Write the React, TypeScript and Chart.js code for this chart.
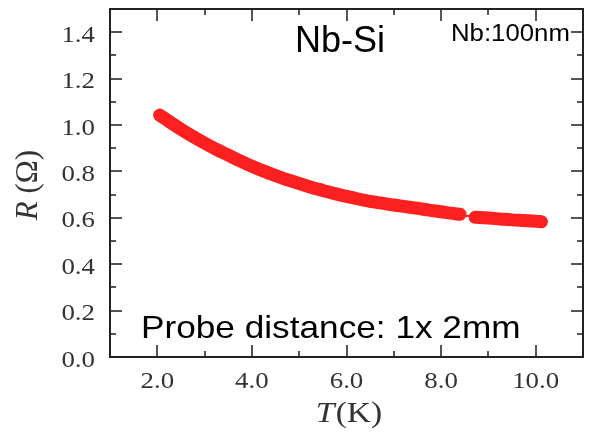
import React, { useEffect, useRef } from "react";
import { Chart, registerables } from "chart.js";

Chart.register(...registerables);

// Measured R(T) curve (first segment, gap, second segment)
const temperatureK = [
  2.05, 2.25, 2.5, 2.75, 3.0, 3.25, 3.5, 3.75, 4.0, 4.25, 4.5, 4.75, 5.0,
  5.25, 5.5, 5.75, 6.0, 6.25, 6.5, 6.75, 7.0, 7.25, 7.5, 7.75, 8.0, 8.2, 8.4,
  8.55,
  8.72, 9.0, 9.25, 9.5, 9.75, 10.0, 10.12,
];
const resistanceOhm: (number | null)[] = [
  1.043, 1.015, 0.982, 0.951, 0.922, 0.895, 0.87, 0.845, 0.822, 0.801, 0.782,
  0.764, 0.748, 0.732, 0.718, 0.704, 0.692, 0.681, 0.671, 0.663, 0.655, 0.648,
  0.641, 0.633, 0.626, 0.62, 0.615,
  null,
  0.602, 0.599, 0.595, 0.591, 0.588, 0.585, 0.583,
];
// isolated reading inside the gap
const isolatedT = [8.55];
const isolatedR = [0.608];

const xMajorTicks = [2, 4, 6, 8, 10];
const xMinorTicks = [3, 5, 7, 9];
const yMajorTicks = [0, 0.2, 0.4, 0.6, 0.8, 1.0, 1.2, 1.4];
const yMinorTicks = [0.1, 0.3, 0.5, 0.7, 0.9, 1.1, 1.3];

const xRange = [1, 11];
const yRange = [0, 1.5];

const titleText = "Nb-Si";
const thicknessText = "Nb:100nm";
const probeText = "Probe distance: 1x 2mm";

const RED = "#fc2020";

export default function App() {
  const canvasRef = useRef<HTMLCanvasElement | null>(null);

  useEffect(() => {
    const canvas = canvasRef.current;
    if (!canvas) return;

    const framePlugin = {
      id: "frame",
      afterDraw(chart: any) {
        const { ctx, chartArea: ca, scales } = chart;
        const xs = scales.x;
        const ys = scales.y;
        ctx.save();
        // ticks (inward, on all four sides)
        ctx.strokeStyle = "#555";
        ctx.lineWidth = 2;
        const major = 12;
        const minor = 6;
        const vtick = (v: number, len: number) => {
          const px = Math.round(xs.getPixelForValue(v));
          ctx.beginPath();
          ctx.moveTo(px, ca.bottom);
          ctx.lineTo(px, ca.bottom - len);
          ctx.moveTo(px, ca.top);
          ctx.lineTo(px, ca.top + len);
          ctx.stroke();
        };
        const htick = (v: number, len: number) => {
          const py = Math.round(ys.getPixelForValue(v));
          ctx.beginPath();
          ctx.moveTo(ca.left, py);
          ctx.lineTo(ca.left + len, py);
          ctx.moveTo(ca.right, py);
          ctx.lineTo(ca.right - len, py);
          ctx.stroke();
        };
        xMajorTicks.forEach((v) => vtick(v, major));
        xMinorTicks.forEach((v) => vtick(v, minor));
        yMajorTicks.forEach((v) => htick(v, major));
        yMinorTicks.forEach((v) => htick(v, minor));

        // frame
        ctx.strokeStyle = "#222";
        ctx.lineWidth = 2;
        ctx.strokeRect(ca.left, ca.top, ca.right - ca.left, ca.bottom - ca.top);

        // tick labels (serif, slightly wide as in the source figure)
        const labelFont = '24px "Liberation Serif"';
        ctx.fillStyle = "#333";
        ctx.font = labelFont;
        ctx.textBaseline = "alphabetic";
        const stretchText = (txt: string, x: number, y: number, sxf: number, align: string) => {
          ctx.save();
          ctx.translate(x, y);
          ctx.scale(sxf, 1);
          ctx.textAlign = align;
          ctx.fillText(txt, 0, 0);
          ctx.restore();
        };
        ys.ticks.forEach((t: any) => {
          const py = ys.getPixelForValue(t.value);
          stretchText(Number(t.value).toFixed(1), ca.left - 15, py + 9.5, 1.12, "right");
        });
        xs.ticks.forEach((t: any) => {
          const px = xs.getPixelForValue(t.value);
          stretchText(Number(t.value).toFixed(1), px, ca.bottom + 31, 1.12, "center");
        });

        // y-axis title: R (Ω), R italic
        ctx.fillStyle = "#333";
        ctx.textBaseline = "middle";
        ctx.save();
        ctx.translate(29, (ca.top + ca.bottom) / 2 + 2);
        ctx.rotate(-Math.PI / 2);
        const fI = 'italic 31px "Liberation Serif"';
        const fN = '31px "Liberation Serif"';
        ctx.font = fI;
        const w1 = ctx.measureText("R").width;
        ctx.font = fN;
        const w2 = ctx.measureText(" (\u03A9)").width;
        let sx = -(w1 + w2) / 2;
        ctx.font = fI;
        ctx.textAlign = "left";
        ctx.fillText("R", sx, 0);
        ctx.font = fN;
        ctx.fillText(" (\u03A9)", sx + w1, 0);
        ctx.restore();

        // x-axis title: T(K), T italic
        ctx.save();
        ctx.translate((ca.left + ca.right) / 2 + 2, 422);
        ctx.scale(1.12, 1);
        ctx.textBaseline = "alphabetic";
        const gI = 'italic 30px "Liberation Serif"';
        const gN = '30px "Liberation Serif"';
        ctx.font = gI;
        const t1 = ctx.measureText("T").width;
        ctx.font = gN;
        const t2 = ctx.measureText("(K)").width;
        sx = -(t1 + t2) / 2;
        ctx.font = gI;
        ctx.textAlign = "left";
        ctx.fillText("T", sx, 0);
        ctx.font = gN;
        ctx.fillText("(K)", sx + t1 + 1, 0);
        ctx.restore();

        // annotations
        ctx.fillStyle = "#000";
        ctx.textAlign = "left";
        ctx.textBaseline = "alphabetic";
        const drawStretched = (txt: string, x: number, y: number, size: number, stretch: number) => {
          ctx.save();
          ctx.translate(x, y);
          ctx.scale(stretch, 1);
          ctx.font = `${size}px "Liberation Sans"`;
          ctx.fillText(txt, 0, 0);
          ctx.restore();
        };
        drawStretched(titleText, ca.left + 185, 52, 36, 1.0);
        drawStretched(thicknessText, ca.left + 341, 41, 23, 1.12);
        drawStretched(probeText, ca.left + 31, 338, 32, 1.1);
        ctx.restore();
      },
    };

    const mainPoints = temperatureK.map((t, i) => ({ x: t, y: resistanceOhm[i] }));
    const isoPoints = isolatedT.map((t, i) => ({ x: t, y: isolatedR[i] }));

    const chart = new Chart(canvas, {
      type: "line",
      data: {
        datasets: [
          {
            data: mainPoints as any,
            borderColor: RED,
            backgroundColor: RED,
            borderWidth: 13,
            borderCapStyle: "round",
            borderJoinStyle: "round",
            pointRadius: 0,
            cubicInterpolationMode: "monotone",
            spanGaps: false,
            fill: false,
          },
          {
            data: isoPoints as any,
            showLine: false,
            pointStyle: "line",
            pointRadius: 2,
            borderColor: RED,
            borderWidth: 2,
          },
        ],
      },
      options: {
        animation: false,
        responsive: false,
        layout: { padding: { top: 9, right: 7, left: 0, bottom: 0 } },
        plugins: { legend: { display: false }, tooltip: { enabled: false } },
        scales: {
          x: {
            type: "linear",
            min: xRange[0],
            max: xRange[1],
            afterBuildTicks: (s: any) => {
              s.ticks = xMajorTicks.map((v) => ({ value: v }));
            },
            afterFit: (s: any) => {
              s.height = 75;
            },
            ticks: { display: false },
            grid: { display: false },
            border: { display: false },
          },
          y: {
            type: "linear",
            min: yRange[0],
            max: yRange[1],
            afterBuildTicks: (s: any) => {
              s.ticks = yMajorTicks.map((v) => ({ value: v }));
            },
            afterFit: (s: any) => {
              s.width = 110;
            },
            ticks: { display: false },
            grid: { display: false },
            border: { display: false },
          },
        },
      },
      plugins: [framePlugin],
    } as any);

    return () => chart.destroy();
  }, []);

  return (
    <div style={{ position: "absolute", left: 0, top: 0, width: 590, height: 432, background: "#fff" }}>
      <canvas ref={canvasRef} width={590} height={432} />
    </div>
  );
}
